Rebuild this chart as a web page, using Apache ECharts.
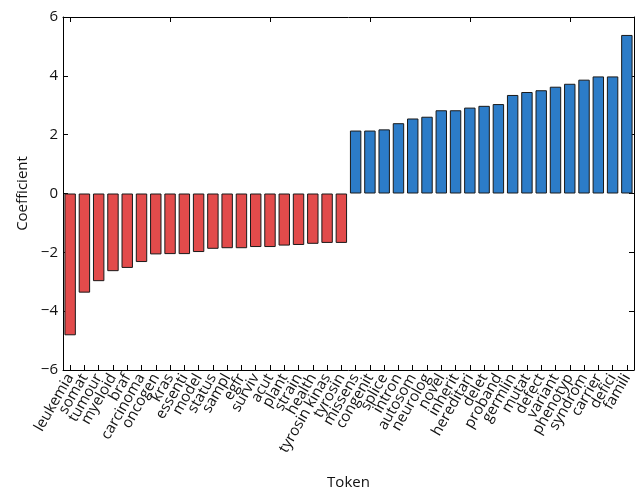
<!DOCTYPE html>
<html>
<head>
<meta charset="utf-8">
<script src="https://cdn.jsdelivr.net/npm/echarts@6/dist/echarts.min.js"></script>
<style>
  html, body { margin: 0; padding: 0; background: #fff; }
  #chart { width: 642px; height: 495px; }
</style>
</head>
<body>
<div id="chart"></div>
<script>
const tokens = [
  'leukemia', 'somat', 'tumour', 'myeloid', 'braf', 'carcinoma', 'oncogen', 'kras',
  'essenti', 'model', 'status', 'sampl', 'egfr', 'surviv', 'acut', 'plant', 'strain',
  'health', 'tyrosin kinas', 'tyrosin',
  'missens', 'congenit', 'splice', 'intron', 'autosom', 'neurolog', 'novel', 'inherit',
  'hereditari', 'delet', 'proband', 'germlin', 'mutat', 'defect', 'variant', 'phenotyp',
  'syndrom', 'carrier', 'defici', 'famili'
];
const coefficients = [
  -4.82, -3.37, -2.98, -2.64, -2.53, -2.33, -2.07, -2.06, -2.06, -1.99, -1.88, -1.86,
  -1.86, -1.82, -1.82, -1.77, -1.75, -1.71, -1.68, -1.68,
  2.14, 2.14, 2.18, 2.39, 2.55, 2.61, 2.83, 2.83, 2.92, 2.98, 3.04, 3.35, 3.45, 3.51,
  3.63, 3.73, 3.87, 3.98, 3.98, 5.39
];
const yTicks = [-6, -4, -2, 0, 2, 4, 6];

const red = '#e24b4b';
const blue = '#2c7cc8';
const font = 'Open Sans';
const ink = '#111';
const minus = v => String(v).replace('-', '\u2212');

function frameLine() {
  return { show: true, onZero: false, lineStyle: { color: '#000', width: 1 } };
}
function tick(extra) {
  return Object.assign({ show: true, inside: true, length: 5, lineStyle: { color: '#000' } }, extra);
}

const chart = echarts.init(document.getElementById('chart'));
chart.setOption({
  animation: false,
  textStyle: { fontFamily: font },
  grid: { left: 63, right: 8, top: 17, bottom: 123 },
  xAxis: [{
    type: 'category',
    data: tokens,
    name: 'Token',
    nameLocation: 'middle',
    nameGap: 105,
    nameTextStyle: { color: ink, fontSize: 15, fontFamily: font },
    axisLine: frameLine(),
    axisTick: tick({ alignWithLabel: true }),
    axisLabel: { rotate: 60, interval: 0, color: ink, fontSize: 15, margin: 5, fontFamily: font }
  }, {
    type: 'category',
    data: tokens,
    position: 'top',
    axisLine: frameLine(),
    axisTick: tick({ alignWithLabel: true }),
    axisLabel: { show: false }
  }],
  yAxis: [{
    type: 'value',
    min: yTicks[0],
    max: yTicks[yTicks.length - 1],
    interval: 2,
    name: 'Coefficient',
    nameLocation: 'middle',
    nameGap: 33,
    nameTextStyle: { color: ink, fontSize: 15, fontFamily: font },
    splitLine: { show: false },
    axisLine: frameLine(),
    axisTick: tick(),
    axisLabel: { color: ink, fontSize: 15, margin: 5, fontFamily: font, formatter: minus }
  }, {
    type: 'value',
    min: yTicks[0],
    max: yTicks[yTicks.length - 1],
    interval: 2,
    position: 'right',
    splitLine: { show: false },
    axisLine: frameLine(),
    axisTick: tick(),
    axisLabel: { show: false }
  }],
  series: [{
    type: 'bar',
    barCategoryGap: '20%',
    data: coefficients.map(v => ({
      value: v,
      itemStyle: { color: v < 0 ? red : blue }
    })),
    itemStyle: { borderColor: '#1a1a1a', borderWidth: 1 }
  }]
});
</script>
</body>
</html>
